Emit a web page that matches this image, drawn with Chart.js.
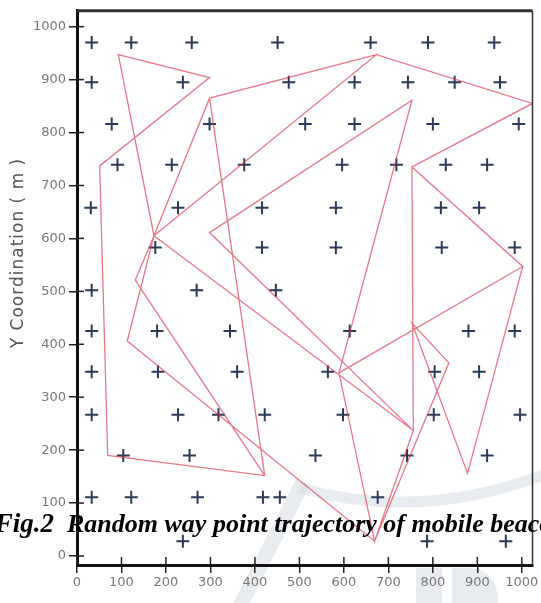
<!DOCTYPE html>
<html>
<head>
    <title>Random way point trajectory</title>
    <script src="https://cdn.jsdelivr.net/npm/chart.js"></script>
    <style>
        html, body { margin: 0; padding: 0; background: #fff; overflow: hidden; }
        #wrap { width: 541px; height: 603px; position: relative; }
    </style>
</head>
<body>
    <div id="wrap"><canvas id="traj" width="541" height="603"></canvas></div>
    <script>
        // anchor (beacon) nodes
        var beaconX = [33, 122, 258, 451, 660, 789, 938,
                       33, 238, 476, 624, 744, 849, 951,
                       78, 298, 513, 624, 800, 993,
                       91, 213, 376, 596, 718, 829, 922,
                       31, 227, 416, 582, 818, 904,
                       176, 416, 582, 820, 984,
                       33, 269, 447,
                       33, 180, 344, 613, 880, 984,
                       33, 182, 360, 564, 804, 904,
                       33, 227, 318, 422, 598, 802, 996,
                       104, 253, 536, 742, 922,
                       33, 122, 271, 418, 456, 676,
                       238, 787, 964];
        var beaconY = [970, 970, 970, 970, 970, 970, 970,
                       895, 895, 895, 895, 895, 895, 895,
                       816, 816, 816, 816, 816, 816,
                       739, 739, 739, 739, 739, 739, 739,
                       658, 658, 658, 658, 658, 658,
                       583, 583, 583, 583, 583,
                       502, 502, 502,
                       425, 425, 425, 425, 425, 425,
                       348, 348, 348, 348, 348, 348,
                       267, 267, 267, 267, 267, 267, 267,
                       190, 190, 190, 190, 190,
                       111, 111, 111, 111, 111, 111,
                       28, 28, 28];

        // waypoints of the mobile beacon, in visiting order
        var pathX = [422, 131, 173, 93, 298, 51, 69, 422, 298, 673, 1024, 753, 1002, 878, 753, 836, 669, 589,
                     753, 298, 756, 669, 113, 173, 298, 673, 173, 756, 753, 1002, 589];
        var pathY = [152, 521, 605, 947, 904, 737, 190, 152, 865, 947, 855, 735, 547, 156, 440, 365, 28, 346,
                     861, 611, 237, 28, 406, 605, 865, 947, 605, 237, 735, 547, 346];

        var xMin = 0, xMax = 1024, yMin = -17, yMax = 1030;
        var tickStep = 100;
        var yTitle = 'Y Coordination ( m )';
        var figLabel = 'Fig.2';
        var caption = 'Random way point trajectory of mobile beacon';

        var beacons = beaconX.map(function(x, i) { return { x: x, y: beaconY[i] }; });
        var path = pathX.map(function(x, i) { return { x: x, y: pathY[i] }; });

        var decor = {
            id: 'decor',
            beforeDraw: function(chart) {
                var c = chart.ctx;
                c.save();
                c.fillStyle = '#fff';
                c.fillRect(0, 0, chart.width, chart.height);
                // faint watermark of the source page
                c.strokeStyle = 'rgba(214,221,230,0.55)';
                c.lineWidth = 15;
                c.beginPath();
                c.moveTo(238, 610);
                c.lineTo(303, 482);
                c.stroke();
                c.lineWidth = 11;
                c.beginPath();
                c.moveTo(300, 488);
                c.quadraticCurveTo(420, 522, 545, 474);
                c.stroke();
                c.fillStyle = 'rgba(214,221,230,0.55)';
                c.fillRect(416, 568, 26, 35);
                c.beginPath();
                c.moveTo(452, 568);
                c.lineTo(470, 568);
                c.quadraticCurveTo(498, 570, 498, 603);
                c.lineTo(452, 603);
                c.closePath();
                c.fill();
                c.restore();
            },
            afterDatasetsDraw: function(chart) {
                var c = chart.ctx, a = chart.chartArea;
                var xs = chart.scales.x, ys = chart.scales.y;
                c.save();
                c.strokeStyle = '#222';
                c.lineWidth = 1.5;
                // inner halves of the tick marks
                xs.ticks.forEach(function(t) {
                    var px = xs.getPixelForValue(t.value);
                    c.beginPath(); c.moveTo(px, a.bottom); c.lineTo(px, a.bottom - 8); c.stroke();
                });
                ys.ticks.forEach(function(t) {
                    var py = ys.getPixelForValue(t.value);
                    c.beginPath(); c.moveTo(a.left, py); c.lineTo(a.left + 7, py); c.stroke();
                });
                // frame top and right
                c.strokeStyle = '#333';
                c.lineWidth = 3;
                c.beginPath(); c.moveTo(a.left, a.top); c.lineTo(a.right, a.top); c.stroke();
                c.lineWidth = 1.5;
                c.beginPath(); c.moveTo(a.right, a.top); c.lineTo(a.right, a.bottom); c.stroke();
                c.restore();
            },
            afterDraw: function(chart) {
                var c = chart.ctx;
                c.save();
                c.translate(23, 253);
                c.rotate(-Math.PI / 2);
                c.font = '17px "DejaVu Sans"';
                c.letterSpacing = '1px';
                c.fillStyle = '#555';
                c.textAlign = 'center';
                c.textBaseline = 'alphabetic';
                c.fillText(yTitle, 0, 0);
                c.restore();

                // caption, cut off at the edges as in the scan
                c.save();
                c.fillStyle = '#000';
                c.textBaseline = 'alphabetic';
                c.font = 'italic bold 27px "Liberation Serif"';
                c.textAlign = 'right';
                c.fillText(figLabel, 54, 532);
                c.font = 'italic bold 26px "Liberation Serif"';
                c.textAlign = 'left';
                c.fillText(caption, 67, 532);
                c.restore();
            }
        };

        var plainTick = function(v) { return String(v); };

        var ctx = document.getElementById('traj').getContext('2d');
        var trajChart = new Chart(ctx, {
            type: 'scatter',
            data: {
                datasets: [{
                    label: 'Trajectory',
                    data: path,
                    showLine: true,
                    borderColor: 'rgba(222,55,75,0.68)',
                    borderWidth: 1.3,
                    pointRadius: 0,
                    tension: 0
                }, {
                    label: 'Beacons',
                    data: beacons,
                    pointStyle: 'cross',
                    pointRadius: 6.5,
                    borderColor: '#2c3a58',
                    backgroundColor: '#2c3a58',
                    borderWidth: 2
                }]
            },
            options: {
                responsive: false,
                animation: false,
                layout: { padding: { left: 0, top: 8, right: 3, bottom: 0 } },
                plugins: {
                    legend: { display: false },
                    tooltip: { enabled: false }
                },
                scales: {
                    x: {
                        type: 'linear',
                        min: xMin,
                        max: xMax,
                        afterFit: function(s) { s.height = 38; },
                        ticks: {
                            stepSize: tickStep,
                            includeBounds: false,
                            autoSkip: false,
                            maxRotation: 0,
                            padding: 2,
                            color: '#777',
                            callback: plainTick,
                            font: { family: 'DejaVu Sans', size: 13 }
                        },
                        grid: { drawOnChartArea: false, tickLength: 8, color: '#222', lineWidth: 1.5 },
                        border: { color: '#111', width: 3 }
                    },
                    y: {
                        type: 'linear',
                        min: yMin,
                        max: yMax,
                        afterFit: function(s) { s.width = 77; },
                        ticks: {
                            stepSize: tickStep,
                            includeBounds: false,
                            padding: 3,
                            color: '#777',
                            callback: plainTick,
                            font: { family: 'DejaVu Sans', size: 13 }
                        },
                        grid: { drawOnChartArea: false, tickLength: 8, color: '#222', lineWidth: 1.5 },
                        border: { color: '#111', width: 3 }
                    }
                }
            },
            plugins: [decor]
        });
    </script>
</body>
</html>
